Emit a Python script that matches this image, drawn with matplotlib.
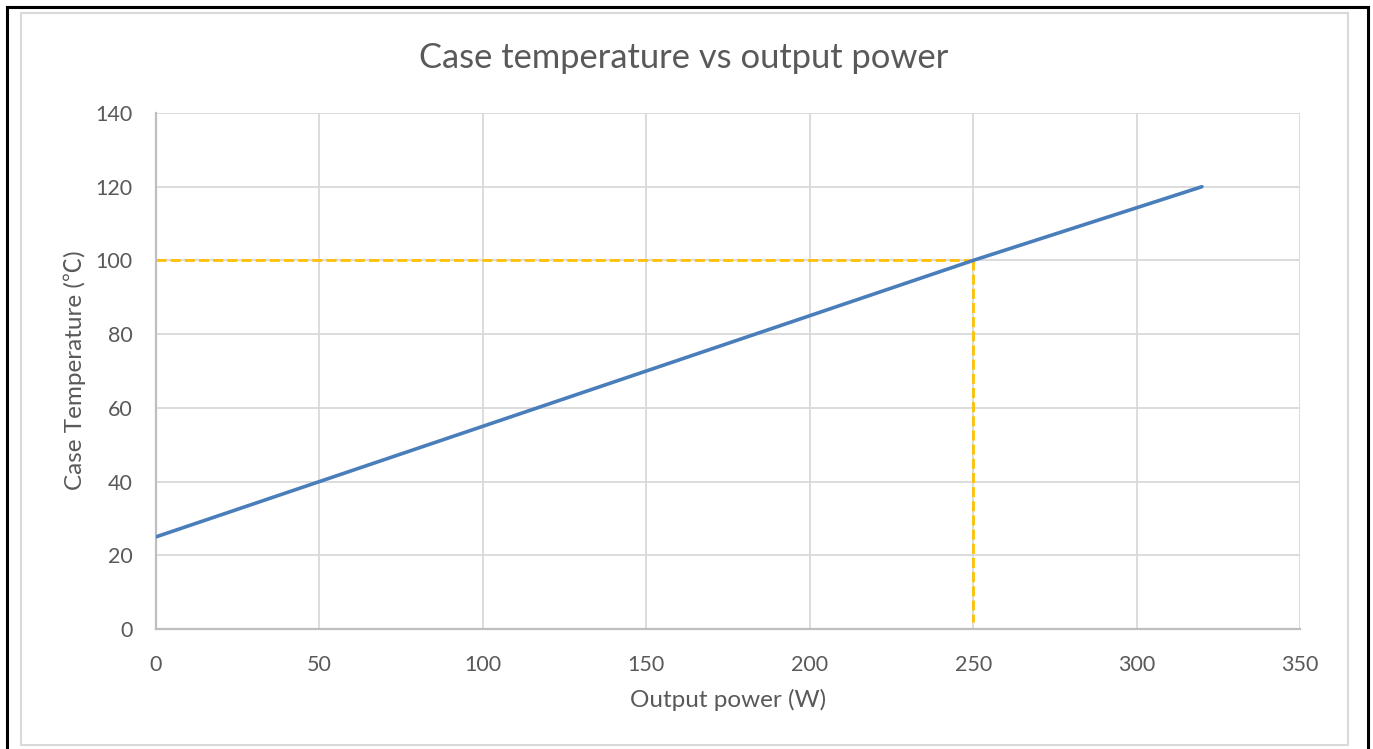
import matplotlib
matplotlib.use("Agg")
import matplotlib.pyplot as plt
from matplotlib.patches import Rectangle
from matplotlib.lines import Line2D

# Data
power_w = [0, 250, 320]
case_temp_c = [25, 100, 120]
ref_power = 250
ref_temp = 100
ref_vline_bottom = 2
x_ticks = [0, 50, 100, 150, 200, 250, 300, 350]
y_ticks = [0, 20, 40, 60, 80, 100, 120, 140]

plt.rcParams['font.family'] = ['Lato', 'Noto Sans CJK SC', 'DejaVu Sans']

W, H = 1373, 749
fig = plt.figure(figsize=(W / 100, H / 100), dpi=100)
fig.patch.set_facecolor('white')

def fx(px):
    return px / W

def fy(py):
    return 1 - py / H

ax = fig.add_axes([fx(156), fy(629), fx(1300) - fx(156), fy(113) - fy(629)])

ax.plot(power_w, case_temp_c, color='#4a7ebb', lw=2.6, solid_capstyle='round', zorder=3)
ax.plot([0, ref_power], [ref_temp, ref_temp], color='#ffc000', lw=2.0, ls=(0, (3.6, 1.5)), zorder=2)
ax.plot([ref_power, ref_power], [ref_temp, ref_vline_bottom], color='#ffc000', lw=2.0, ls=(0, (3.6, 1.5)), zorder=2)

ax.set_xlim(0, 350)
ax.set_ylim(0, 140)
ax.set_xticks(x_ticks)
ax.set_yticks(y_ticks)
ax.grid(True, color='#d9d9d9', lw=1.3)
ax.set_axisbelow(True)
for s in ['top', 'right']:
    ax.spines[s].set_visible(False)
for s in ['left', 'bottom']:
    ax.spines[s].set_color('#bfbfbf')
    ax.spines[s].set_linewidth(1.6)
ax.tick_params(length=0, labelsize=15.5, labelcolor='#595959')
ax.tick_params(axis='y', pad=17)
ax.tick_params(axis='x', pad=19)

fig.text(fx(684), fy(58), 'Case temperature vs output power', ha='center', va='center',
         fontsize=24.8, color='#595959')
fig.text(fx(728), fy(700), 'Output power (W)', ha='center', va='center',
         fontsize=17.5, color='#595959')
fig.text(fx(75), fy(370), 'Case Temperature (\u2103)', ha='center', va='center',
         fontsize=17.5, color='#595959', rotation=90)

# Borders
fig.add_artist(Rectangle((fx(21), fy(745)), fx(1348) - fx(21), fy(13) - fy(745),
                         fill=False, edgecolor='#d9d9d9', lw=1.5, transform=fig.transFigure))
fig.add_artist(Line2D([fx(7), fx(7)], [0, fy(7)], color='black', lw=2.2, transform=fig.transFigure))
fig.add_artist(Line2D([fx(7), fx(1368)], [fy(7), fy(7)], color='black', lw=2.2, transform=fig.transFigure))
fig.add_artist(Line2D([fx(1368), fx(1368)], [fy(7), 0], color='black', lw=2.2, transform=fig.transFigure))

fig.savefig('out.png', dpi=100)
